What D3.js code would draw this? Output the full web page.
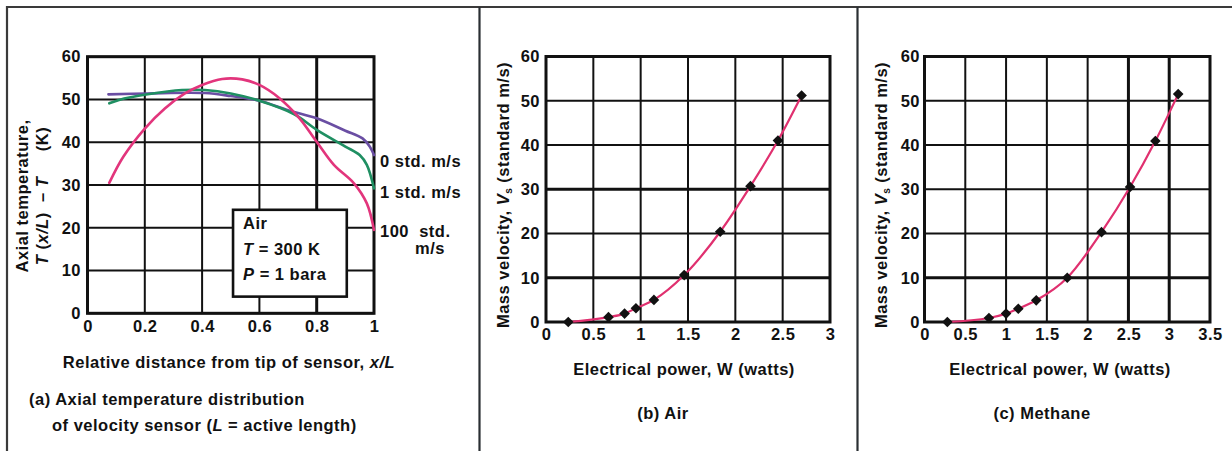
<!DOCTYPE html>
<html><head><meta charset="utf-8">
<script src="https://cdn.jsdelivr.net/npm/d3@7/dist/d3.min.js"></script>
<style>
body{margin:0;background:#fff;}
svg{display:block;font-family:"Liberation Sans",Arial,sans-serif;font-weight:bold;letter-spacing:0.5px;}
</style></head>
<body><svg id="c" width="1232" height="451"></svg>
<script>
// ---------- DATA ----------
// Panel (a): axial temperature distribution, x/L vs T(x/L) - T (K)
const aXTicks = [0, 0.2, 0.4, 0.6, 0.8, 1];
const aYTicks = [0, 10, 20, 30, 40, 50, 60];
const aXTickLabels = ["0", "0.2", "0.4", "0.6", "0.8", "1"];
const zeroStdX = [0.073, 0.21, 0.41, 0.5, 0.6, 0.7, 0.8, 0.9, 0.96, 0.985, 1.0];
const zeroStdY = [51.2, 51.4, 51.5, 50.8, 49.7, 47.5, 45.6, 42.7, 40.9, 39.0, 37.0];
const oneStdX = [0.076, 0.11, 0.21, 0.33, 0.41, 0.5, 0.6, 0.72, 0.8, 0.9, 0.95, 0.975, 1.0];
const oneStdY = [49.1, 49.9, 51.2, 52.2, 52.2, 51.4, 49.7, 46.6, 42.9, 39.0, 37.0, 34.7, 29.2];
const hundredStdX = [0.076, 0.125, 0.2, 0.27, 0.34, 0.4, 0.47, 0.54, 0.6, 0.67, 0.74, 0.8, 0.86, 0.93, 0.975, 1.0];
const hundredStdY = [30.5, 36.6, 43.2, 47.9, 51.4, 53.4, 54.8, 54.7, 53.4, 50.3, 45.6, 40.1, 34.7, 30.4, 25.7, 19.5];
const seriesLabels = ["0 std. m/s", "1 std. m/s", "100  std.", "m/s"];
const boxLines = ["Air", "T = 300 K", "P = 1 bara"];

// Panel (b): Air — electrical power (W) vs mass velocity (standard m/s)
const bXTicks = [0, 0.5, 1, 1.5, 2, 2.5, 3];
const bXTickLabels = ["0", "0.5", "1", "1.5", "2", "2.5", "3"];
const bYTicks = [0, 10, 20, 30, 40, 50, 60];
const airPower = [0.235, 0.66, 0.83, 0.95, 1.14, 1.46, 1.84, 2.16, 2.45, 2.70];
const airVelocity = [0, 1.1, 1.9, 3.1, 5.0, 10.6, 20.4, 30.7, 41.0, 51.2];

// Panel (c): Methane
const cXTicks = [0, 0.5, 1, 1.5, 2, 2.5, 3, 3.5];
const cXTickLabels = ["0", "0.5", "1", "1.5", "2", "2.5", "3", "3.5"];
const cYTicks = [0, 10, 20, 30, 40, 50, 60];
const methanePower = [0.28, 0.79, 1.0, 1.15, 1.37, 1.75, 2.17, 2.52, 2.83, 3.11];
const methaneVelocity = [0, 0.9, 1.9, 3.0, 4.9, 10.0, 20.3, 30.5, 40.9, 51.5];

// ---------- DRAW ----------
const svg = d3.select("#c");
const INK = "#111";
const FS = 16.5;

// outer frame
svg.append("path").attr("d", "M7,451 V7 H1232").attr("fill","none").attr("stroke","#3a3a3a").attr("stroke-width",2.2);
svg.append("line").attr("x1",479.5).attr("x2",479.5).attr("y1",7).attr("y2",451).attr("stroke","#2a2f33").attr("stroke-width",2.2);
svg.append("line").attr("x1",857.5).attr("x2",857.5).attr("y1",7).attr("y2",451).attr("stroke","#2a2f33").attr("stroke-width",2.2);

function panel(o){
  const g = svg.append("g");
  const x = d3.scaleLinear().domain(o.xDomain).range(o.xRange);
  const y = d3.scaleLinear().domain([0,60]).range(o.yRange);
  g.selectAll(".gx").data(o.xTicks).join("line")
    .attr("x1",d=>x(d)).attr("x2",d=>x(d)).attr("y1",y(0)).attr("y2",y(60))
    .attr("stroke",INK).attr("stroke-width",d=>o.thickX.includes(d)?3:2);
  g.selectAll(".gy").data(o.yTicks).join("line")
    .attr("y1",d=>y(d)).attr("y2",d=>y(d)).attr("x1",x(o.xDomain[0])).attr("x2",x(o.xDomain[1]))
    .attr("stroke",INK).attr("stroke-width",d=>o.thickY.includes(d)?3:2);
  g.append("rect").attr("x",x(o.xDomain[0])).attr("y",y(60))
    .attr("width",x(o.xDomain[1])-x(o.xDomain[0])).attr("height",y(0)-y(60))
    .attr("fill","none").attr("stroke",INK).attr("stroke-width",3);
  const xa = g.append("g").attr("transform",`translate(0,${y(0)})`)
    .call(d3.axisBottom(x).tickValues(o.xTicks).tickFormat((d,i)=>o.xTickLabels[i]).tickSize(0).tickPadding(o.xPad));
  const ya = g.append("g").attr("transform",`translate(${x(o.xDomain[0])},0)`)
    .call(d3.axisLeft(y).tickValues(o.yTicks).tickFormat(d3.format("d")).tickSize(0).tickPadding(o.yPad));
  [xa,ya].forEach(a=>{a.select(".domain").remove();
    a.selectAll("text").attr("font-family","'Liberation Sans',Arial,sans-serif").attr("font-weight","bold")
     .attr("font-size",o.tickFont).attr("fill",INK);});
  return {g,x,y};
}

// ---- Panel (a)
const A = panel({xDomain:[0,1], xRange:[87.5,374], yRange:[313.3,56.7], xTicks:aXTicks, xTickLabels:aXTickLabels,
  yTicks:aYTicks, thickX:[0.8], thickY:[], xPad:7, yPad:6.5, tickFont:FS});
const lineA = d3.line().x(d=>A.x(d[0])).y(d=>A.y(d[1])).curve(d3.curveCatmullRom.alpha(0.5));
const aSeries = [
  {xs:zeroStdX, ys:zeroStdY, color:"#6a4ea3"},
  {xs:oneStdX, ys:oneStdY, color:"#1f8f62"},
  {xs:hundredStdX, ys:hundredStdY, color:"#e2357c"}
];
aSeries.forEach(s=>{
  A.g.append("path").datum(s.xs.map((v,i)=>[v,s.ys[i]])).attr("d",lineA)
    .attr("fill","none").attr("stroke",s.color).attr("stroke-width",2.6).attr("stroke-linecap","round");
});
const bx = A.x(0.508), by = A.y(24.2), bw = A.x(0.905)-A.x(0.508), bh = A.y(3.9)-A.y(24.2);
A.g.append("rect").attr("x",bx).attr("y",by).attr("width",bw).attr("height",bh)
  .attr("fill","#fff").attr("stroke",INK).attr("stroke-width",2.6);
const bt = A.g.append("g").attr("font-size",FS).attr("fill",INK);
bt.append("text").attr("x",bx+10).attr("y",by+19).text(boxLines[0]);
const t2 = bt.append("text").attr("x",bx+10).attr("y",by+45);
t2.append("tspan").attr("font-style","italic").text("T");
t2.append("tspan").text(" = 300 K");
const t3 = bt.append("text").attr("x",bx+10).attr("y",by+70);
t3.append("tspan").attr("font-style","italic").text("P");
t3.append("tspan").text(" = 1 bara");
const sl = A.g.append("g").attr("font-size",FS).attr("fill",INK);
sl.append("text").attr("x",380).attr("y",167).text(seriesLabels[0]);
sl.append("text").attr("x",380).attr("y",198).text(seriesLabels[1]);
sl.append("text").attr("x",380).attr("y",237).attr("xml:space","preserve").text(seriesLabels[2]);
sl.append("text").attr("x",415).attr("y",254).text(seriesLabels[3]);
const ay = A.g.append("g").attr("transform","translate(28,196) rotate(-90)").attr("font-size",FS).attr("fill",INK).attr("text-anchor","middle");
ay.append("text").attr("x",0).attr("y",0).text("Axial temperature,");
const ay2 = ay.append("text").attr("x",0).attr("y",20).attr("xml:space","preserve");
ay2.append("tspan").attr("font-style","italic").text("T");
ay2.append("tspan").text(" (");
ay2.append("tspan").attr("font-style","italic").text("x/L");
ay2.append("tspan").text(")  – ");
ay2.append("tspan").attr("font-style","italic").text("T");
ay2.append("tspan").text("     (K)");
const axA = A.g.append("text").attr("x",229).attr("y",368).attr("text-anchor","middle").attr("font-size",FS).attr("fill",INK);
axA.append("tspan").text("Relative distance from tip of sensor, ");
axA.append("tspan").attr("font-style","italic").text("x/L");
A.g.append("text").attr("x",29).attr("y",405).attr("font-size",FS).attr("fill",INK).text("(a) Axial temperature distribution");
const capA = A.g.append("text").attr("x",52).attr("y",431).attr("font-size",FS).attr("fill",INK);
capA.append("tspan").text("of velocity sensor (");
capA.append("tspan").attr("font-style","italic").text("L");
capA.append("tspan").text(" = active length)");

// ---- Panels (b) and (c)
function velPanel(cfg, xs, ys){
  const P = panel(cfg);
  const line = d3.line().x(d=>P.x(d[0])).y(d=>P.y(d[1])).curve(d3.curveMonotoneX);
  const pts = xs.map((v,i)=>[v,ys[i]]);
  P.g.append("path").datum(pts).attr("d",line).attr("fill","none").attr("stroke","#e0306f").attr("stroke-width",2.2);
  P.g.selectAll(".pt").data(pts).join("path")
    .attr("transform",d=>`translate(${P.x(d[0])},${P.y(d[1])})`)
    .attr("d",d3.symbol().type(d3.symbolDiamond2).size(72)).attr("fill",INK);
  const yl = P.g.append("text").attr("transform",`translate(${cfg.yLabelX},195) rotate(-90)`)
    .attr("text-anchor","middle").attr("font-size",FS).attr("fill",INK);
  yl.append("tspan").text("Mass velocity, ");
  yl.append("tspan").attr("font-style","italic").text("V");
  yl.append("tspan").attr("font-size",10).attr("dy",3).text("s");
  yl.append("tspan").attr("dy",-3).text(" (standard m/s)");
  P.g.append("text").attr("x",cfg.titleX).attr("y",375).attr("text-anchor","middle").attr("font-size",FS).attr("fill",INK)
    .text("Electrical power, W (watts)");
  P.g.append("text").attr("x",cfg.capX).attr("y",419).attr("text-anchor","middle").attr("font-size",FS).attr("fill",INK)
    .text(cfg.caption);
  return P;
}
velPanel({xDomain:[0,3], xRange:[546,830], yRange:[322,56.5], xTicks:bXTicks, xTickLabels:bXTickLabels,
  yTicks:bYTicks, thickX:[], thickY:[10,30], xPad:6, yPad:6, tickFont:FS,
  yLabelX:509, titleX:684, capX:663, caption:"(b) Air"}, airPower, airVelocity);
velPanel({xDomain:[0,3.5], xRange:[924.5,1210], yRange:[322,56.5], xTicks:cXTicks, xTickLabels:cXTickLabels,
  yTicks:cYTicks, thickX:[2.5,3], thickY:[10], xPad:6, yPad:4.5, tickFont:FS,
  yLabelX:887, titleX:1060, capX:1042, caption:"(c) Methane"}, methanePower, methaneVelocity);
</script></body></html>
